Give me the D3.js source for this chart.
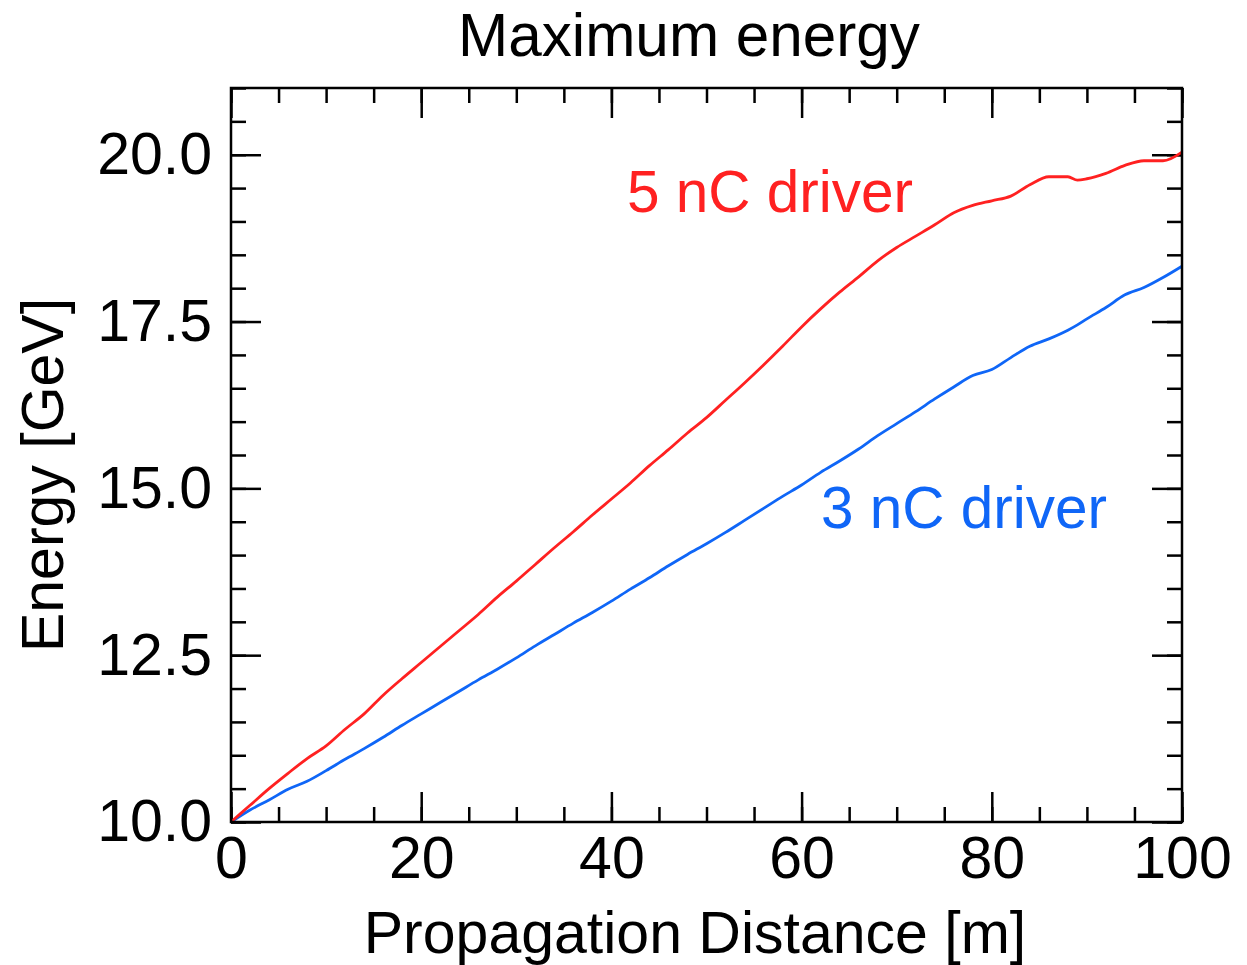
<!DOCTYPE html>
<html>
<head>
<meta charset="utf-8">
<script src="https://cdn.jsdelivr.net/npm/d3@7"></script>
<style>
  html, body { margin: 0; padding: 0; background: #fff; }
  svg { display: block; }
  text { font-family: "Liberation Sans", Arial, Helvetica, sans-serif; }
</style>
</head>
<body>
<svg id="chart" width="1247" height="965"></svg>
<script>
// ---- data ----
const distance = [0,2,4,6,8,10,12,14,16,18,20,22,24,26,28,30,32,34,36,38,40,42,44,46,48,50,
                  52,54,56,58,60,62,64,66,68,70,72,74,76,78,80,82,84,86,88,89,90,92,94,96,98,100];
const energy5nC = [10.00,10.25,10.50,10.73,10.95,11.14,11.39,11.62,11.90,12.15,12.39,12.63,12.87,13.11,13.37,13.61,
                   13.86,14.11,14.35,14.60,14.84,15.08,15.34,15.58,15.83,16.06,16.32,16.58,16.85,17.13,17.42,17.69,
                   17.94,18.17,18.41,18.61,18.78,18.95,19.13,19.24,19.31,19.38,19.55,19.67,19.67,19.62,19.64,19.72,
                   19.84,19.91,19.91,20.04];
const energy3nC = [10.00,10.18,10.33,10.49,10.61,10.77,10.94,11.10,11.27,11.45,11.62,11.79,11.96,12.13,12.29,12.46,
                   12.64,12.81,12.98,13.14,13.31,13.49,13.66,13.84,14.01,14.17,14.34,14.52,14.70,14.88,15.05,15.24,
                   15.41,15.59,15.79,15.97,16.15,16.34,16.52,16.69,16.78,16.96,17.13,17.24,17.37,17.45,17.54,17.71,
                   17.90,18.01,18.16,18.33];
const xMajorTicks = [0,20,40,60,80,100];
const xMinorTicks = d3.range(0, 100.001, 5);
const yMajorTicks = [10.0,12.5,15.0,17.5,20.0];
const yMinorTicks = d3.range(10, 21.001, 0.5);
const seriesNames = ["5 nC driver","3 nC driver"];
const titleText = "Maximum energy";
const xTitle = "Propagation Distance [m]";
const yTitle = "Energy [GeV]";

// ---- layout ----
const svg = d3.select("#chart");
const margin = {left: 231, top: 88};
const W = 951, H = 734;
const red = "#ff2121", blue = "#0f66f7";
const fs = 59;

const x = d3.scaleLinear().domain([0,100]).range([0,W]);
const y = d3.scaleLinear().domain([10,21]).range([H,0]);

const g = svg.append("g").attr("transform", `translate(${margin.left},${margin.top})`);

function styleAxis(sel){
  sel.select(".domain").remove();
  sel.selectAll(".tick line").attr("stroke","#000").attr("stroke-width",2.5);
}

// minor ticks (all four sides, inward)
g.append("g").attr("transform",`translate(0,${H})`)
  .call(d3.axisBottom(x).tickValues(xMinorTicks).tickSize(-15).tickFormat(""))
  .call(styleAxis);
g.append("g")
  .call(d3.axisTop(x).tickValues(xMinorTicks).tickSize(-15).tickFormat(""))
  .call(styleAxis);
g.append("g")
  .call(d3.axisLeft(y).tickValues(yMinorTicks).tickSize(-15).tickFormat(""))
  .call(styleAxis);
g.append("g").attr("transform",`translate(${W},0)`)
  .call(d3.axisRight(y).tickValues(yMinorTicks).tickSize(-15).tickFormat(""))
  .call(styleAxis);

// major ticks
const xb = g.append("g").attr("transform",`translate(0,${H})`)
  .call(d3.axisBottom(x).tickValues(xMajorTicks).tickSize(-30).tickPadding(14).tickFormat(d3.format("d")))
  .call(styleAxis);
xb.selectAll("text").attr("font-size",fs).attr("fill","#000")
  .attr("font-family",'"Liberation Sans", Arial, sans-serif');
g.append("g")
  .call(d3.axisTop(x).tickValues(xMajorTicks).tickSize(-30).tickFormat(""))
  .call(styleAxis);
const yl = g.append("g")
  .call(d3.axisLeft(y).tickValues(yMajorTicks).tickSize(-30).tickPadding(19).tickFormat(d3.format(".1f")))
  .call(styleAxis);
yl.selectAll("text").attr("font-size",fs).attr("fill","#000")
  .attr("font-family",'"Liberation Sans", Arial, sans-serif');
g.append("g").attr("transform",`translate(${W},0)`)
  .call(d3.axisRight(y).tickValues(yMajorTicks).tickSize(-30).tickFormat(""))
  .call(styleAxis);

// lines
const data5 = distance.map((d,i)=>[d, energy5nC[i]]);
const data3 = distance.map((d,i)=>[d, energy3nC[i]]);
const line = d3.line().x(d=>x(d[0])).y(d=>y(d[1])).curve(d3.curveMonotoneX);
g.append("path").datum(data3).attr("d",line).attr("fill","none")
  .attr("stroke",blue).attr("stroke-width",2.8).attr("stroke-linejoin","round");
g.append("path").datum(data5).attr("d",line).attr("fill","none")
  .attr("stroke",red).attr("stroke-width",2.8).attr("stroke-linejoin","round");

// frame
g.append("rect").attr("x",0).attr("y",0).attr("width",W).attr("height",H)
  .attr("fill","none").attr("stroke","#000").attr("stroke-width",2.5);

// series labels
svg.append("text").attr("x",627).attr("y",212).attr("font-size",58.5)
  .attr("fill",red).text(seriesNames[0]);
svg.append("text").attr("x",821).attr("y",528).attr("font-size",58.5)
  .attr("fill",blue).text(seriesNames[1]);

// titles
svg.append("text").attr("x",689).attr("y",56).attr("text-anchor","middle")
  .attr("font-family",'Lato, "Open Sans", sans-serif').attr("font-size",62)
  .attr("textLength",462).attr("lengthAdjust","spacingAndGlyphs")
  .attr("fill","#000").text(titleText);
svg.append("text").attr("x",695).attr("y",953).attr("text-anchor","middle")
  .attr("font-size",fs).attr("fill","#000").text(xTitle);
svg.append("text").attr("transform","translate(63,475) rotate(-90)")
  .attr("text-anchor","middle").attr("font-size",fs).attr("fill","#000").text(yTitle);
</script>
</body>
</html>
